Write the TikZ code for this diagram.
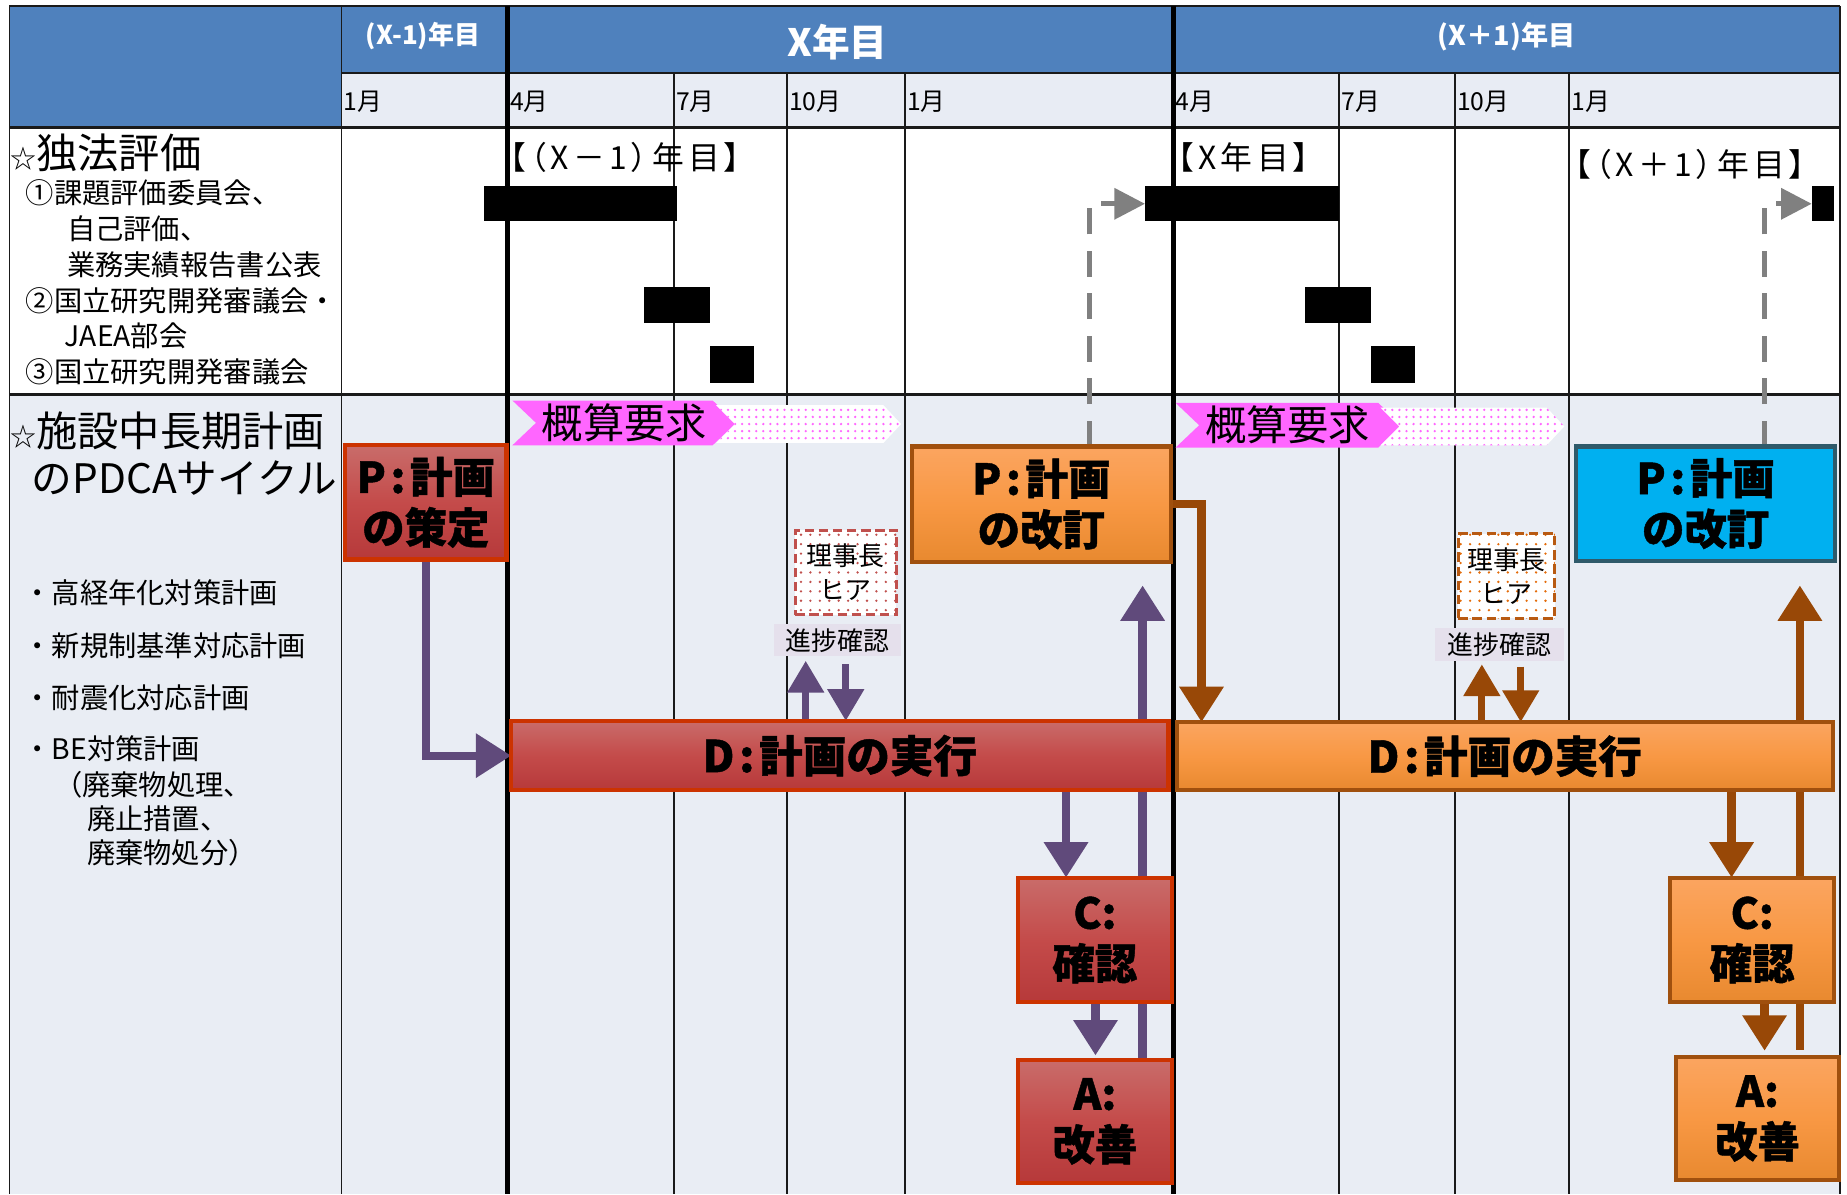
\documentclass[tikz,border=0pt]{standalone}
\usepackage{fontspec}
\setmainfont{Noto Sans CJK JP}
\usetikzlibrary{arrows.meta,patterns.meta,calc}
\newcommand\fsz[2]{\fontsize{#1}{#2}\selectfont}
\newcommand\colsp{\kern4pt:\kern4pt}
\definecolor{hdrblue}{HTML}{4F81BD}
\definecolor{monthbg}{HTML}{E8ECF4}
\definecolor{rowbg}{HTML}{E9EDF4}
\definecolor{gridc}{HTML}{1A1A1A}
\definecolor{pinkc}{HTML}{FF66FF}
\definecolor{redT}{HTML}{C96C6A}
\definecolor{redM}{HTML}{C44B4A}
\definecolor{redB}{HTML}{B6393A}
\definecolor{redBd}{HTML}{CC3300}
\definecolor{orT}{HTML}{FBA560}
\definecolor{orM}{HTML}{F89844}
\definecolor{orB}{HTML}{E8892F}
\definecolor{orBd}{HTML}{A0500E}
\definecolor{cyanP}{HTML}{00B0F0}
\definecolor{cyanBd}{HTML}{2F5A6A}
\definecolor{purpA}{HTML}{604A7B}
\definecolor{brownA}{HTML}{984807}
\definecolor{grayA}{HTML}{808080}
\definecolor{hiaRed}{HTML}{C0504D}
\definecolor{hiaOr}{HTML}{B85A12}
\definecolor{hiaDotOr}{HTML}{E46C0A}
\definecolor{shinbg}{HTML}{E5E0EC}
\pgfdeclarelayer{bg}
\pgfdeclarelayer{mid}
\pgfsetlayers{bg,mid,main}
\tikzset{
  every node/.style={inner sep=0pt, outer sep=0pt},
  boxbase/.style={rectangle, line width=3.5pt, align=center, font=\bfseries\addfontfeature{FakeBold=1}\fsz{36}{43}, anchor=north west},
  redbox/.style={boxbase, draw=redBd, top color=redT, bottom color=redB, middle color=redM},
  orbox/.style={boxbase, draw=orBd, top color=orT, bottom color=orB, middle color=orM},
  cyanbox/.style={boxbase, draw=cyanBd, fill=cyanP},
  blackbar/.style={rectangle, fill=black, anchor=north west, minimum height=30pt},
  purparrow/.style={draw=purpA, line width=7pt, -{Triangle[width=36pt,length=30pt]}},
  brownarrow/.style={draw=brownA, line width=7pt, -{Triangle[width=36pt,length=30pt]}},
  smallp/.style={draw=purpA, line width=6pt, -{Triangle[width=30pt,length=27pt]}},
  smallb/.style={draw=brownA, line width=6pt, -{Triangle[width=30pt,length=27pt]}},
  graydash/.style={draw=grayA, line width=4pt, dash pattern=on 22pt off 14pt, -{Triangle[width=26pt,length=26pt]}},
  hiabox/.style={rectangle, line width=2.5pt, dash pattern=on 8pt off 4pt, align=center, font=\fsz{22}{29}, anchor=north west},
  shinbox/.style={rectangle, fill=shinbg, font=\fsz{22}{22}, anchor=north west},
  lefttext/.style={anchor=west, font=\fsz{24}{24}},
  monthtext/.style={anchor=west, font=\fsz{21}{21}},
  hdrtext/.style={text=white, font=\bfseries\fsz{22}{22}},
  brktext/.style={anchor=west, font=\addfontfeatures{RawFeature=+palt,LetterSpace=14}\fsz{27}{27}},
  gaitext/.style={font=\fsz{35}{35}},
  gridthin/.style={draw=gridc, line width=1.5pt},
  gridthick/.style={draw=black, line width=4pt}
}
\begin{document}
\begin{tikzpicture}[x=1pt,y=-1pt]
\useasboundingbox (0,0) rectangle (1568,1014);
\begin{pgfonlayer}{bg}
\fill[white] (0,0) rectangle (1568,1014);
\fill[hdrblue] (8,5) rectangle (1562,62);
\fill[hdrblue] (8,62) rectangle (290,108);
\fill[monthbg] (290,62) rectangle (1562,108);
\fill[white] (8,108) rectangle (1562,335);
\fill[rowbg] (8,335) rectangle (1562,1014);
\draw[gridthin] (8,5) -- (1562,5);
\draw[gridthin, line width=2pt] (290,62) -- (1562,62);
\draw[gridthin, line width=2.5pt] (8,108) -- (1562,108);
\draw[gridthin, line width=2pt] (8,335) -- (1562,335);
\draw[gridthin] (8,5) -- (8,1014);
\draw[gridthin] (290,5) -- (290,1014);
\draw[gridthin] (1562,5) -- (1562,1014);
\foreach \xx in {572,668,768,1137,1235,1332} \draw[gridthin] (\xx,62) -- (\xx,1014);
\draw[gridthick] (431,5) -- (431,1014);
\draw[gridthick] (996,5) -- (996,1014);
\end{pgfonlayer}

% header texts
\node[hdrtext] (hy0) at (359,31) {(X-1)年目};
\node[hdrtext, font=\bfseries\fsz{32}{32}] (hy1) at (711,36) {X年目};
\node[hdrtext, font=\bfseries\fsz{23}{23}] (hy2) at (1279,31) {(X＋1)年目};
\node[monthtext] (m1) at (292,86) {1月};
\node[monthtext] (m2) at (433,86) {4月};
\node[monthtext] (m3) at (574,86) {7月};
\node[monthtext] (m4) at (670,86) {10月};
\node[monthtext] (m5) at (770,86) {1月};
\node[monthtext] (m6) at (998,86) {4月};
\node[monthtext] (m7) at (1139,86) {7月};
\node[monthtext] (m8) at (1237,86) {10月};
\node[monthtext] (m9) at (1334,86) {1月};

% left texts row 1
\node[anchor=west] (dh) at (9,130) {\fsz{22}{22}☆\fsz{35}{35}独法評価};
\node[lefttext] (l1) at (22,164) {①課題評価委員会、};
\node[lefttext] (l2) at (57,194) {自己評価、};
\node[lefttext] (l3) at (57,225) {業務実績報告書公表};
\node[lefttext] (l4) at (22,255) {②国立研究開発審議会・};
\node[lefttext] (l5) at (55,285) {JAEA部会};
\node[lefttext] (l6) at (22,316) {③国立研究開発審議会};

% left texts row 2
\node[anchor=west] (sh1) at (9,366) {\fsz{22}{22}☆\fsz{35}{35}施設中長期計画};
\node[anchor=west, font=\fsz{34.5}{34.5}] (sh2) at (27,406) {のPDCAサイクル};
\node[lefttext] (k1) at (20,503) {・高経年化対策計画};
\node[lefttext] (k2) at (20,548) {・新規制基準対応計画};
\node[lefttext] (k3) at (20,592) {・耐震化対応計画};
\node[lefttext] (k4) at (20,636) {・BE対策計画};
\node[lefttext] (k5) at (46,666) {（廃棄物処理、};
\node[lefttext] (k6) at (74,695) {廃止措置、};
\node[lefttext] (k7) at (74,724) {廃棄物処分）};

% bracket labels
\node[brktext] (br0) at (433,134) {【（X－1）年目】};
\node[brktext] (br1) at (1000,134) {【X年目】};
\node[brktext] (br2) at (1337,140) {【（X＋1）年目】};

% black bars
\node[blackbar, minimum width=164pt] (bar1a) at (411,158) {};
\node[blackbar, minimum width=56pt] (bar1b) at (547,244) {};
\node[blackbar, minimum width=37pt, minimum height=31pt] (bar1c) at (603,294) {};
\node[blackbar, minimum width=165pt] (bar2a) at (972,158) {};
\node[blackbar, minimum width=56pt] (bar2b) at (1108,244) {};
\node[blackbar, minimum width=37pt, minimum height=31pt] (bar2c) at (1164,294) {};
\node[blackbar, minimum width=19pt] (bar3a) at (1538,158) {};

% chevrons
\fill[pinkc] (435,340) -- (605,340) -- (625,359) -- (605,378) -- (435,378) -- (455,359) -- cycle;
\fill[white] (608,344) -- (750,344) -- (765,360) -- (750,376) -- (608,376) -- (624,360) -- cycle;
\fill[pattern={Dots[distance=6pt,radius=1.1pt]}, pattern color=pinkc] (608,344) -- (750,344) -- (765,360) -- (750,376) -- (608,376) -- (624,360) -- cycle;
\node[gaitext] (gai1) at (530,359) {概算要求};
\fill[pinkc] (998,342) -- (1170,342) -- (1190,361) -- (1170,380) -- (998,380) -- (1018,361) -- cycle;
\fill[white] (1172,346) -- (1313,346) -- (1328,362) -- (1313,378) -- (1172,378) -- (1188,362) -- cycle;
\fill[pattern={Dots[distance=6pt,radius=1.1pt]}, pattern color=pinkc] (1172,346) -- (1313,346) -- (1328,362) -- (1313,378) -- (1172,378) -- (1188,362) -- cycle;
\node[gaitext] (gai2) at (1093,361) {概算要求};

% PDCA boxes
\node[redbox, minimum width=137pt, minimum height=97pt] (P1) at (293,378) {P\colsp 計画\\の策定};
\node[orbox, minimum width=220pt, minimum height=98pt] (P2) at (774,379) {P\colsp 計画\\の改訂};
\node[cyanbox, minimum width=220pt, minimum height=97pt] (P3) at (1338,379) {P\colsp 計画\\の改訂};
\node[redbox, minimum width=558pt, minimum height=59pt, font=\bfseries\addfontfeature{FakeBold=1}\fsz{37}{37}] (D1) at (434,612) {D\colsp 計画の実行};
\node[orbox, minimum width=557pt, minimum height=58pt, font=\bfseries\addfontfeature{FakeBold=1}\fsz{37}{37}] (D2) at (999,613) {D\colsp 計画の実行};
\node[redbox, minimum width=131pt, minimum height=106pt] (C1) at (864,745) {C:\\確認};
\node[redbox, minimum width=131pt, minimum height=104pt] (A1) at (864,900) {A:\\改善};
\node[orbox, minimum width=139pt, minimum height=106pt] (C2) at (1418,745) {C:\\確認};
\node[orbox, minimum width=138pt, minimum height=105pt] (A2) at (1423,897) {A:\\改善};

% hearing boxes
\node[hiabox, draw=hiaRed, preaction={fill=white}, pattern={Dots[distance=8pt,radius=1.1pt]}, pattern color=hiaRed, minimum width=86pt, minimum height=72pt] (hia1) at (675,450) {理事長\\ヒア};
\node[shinbox, minimum width=108pt, minimum height=27pt] (shin1) at (657,530) {進捗確認};
\node[hiabox, draw=hiaOr, preaction={fill=white}, pattern={Dots[distance=8pt,radius=1.1pt]}, pattern color=hiaDotOr, minimum width=82pt, minimum height=72pt] (hia2) at (1238,453) {理事長\\ヒア};
\node[shinbox, minimum width=110pt, minimum height=28pt] (shin2) at (1218,533) {進捗確認};

% helper x coordinates
\coordinate (g1x) at (925,0);
\coordinate (g2x) at (1498,0);
\coordinate (a1x) at (905,0);
\coordinate (a2x) at (930,0);
\coordinate (a3x) at (970,0);
\coordinate (s1x) at (684,0);
\coordinate (s2x) at (718,0);
\coordinate (o1x) at (1020,0);
\coordinate (o2x) at (1470,0);
\coordinate (o3x) at (1498,0);
\coordinate (o4x) at (1528,0);
\coordinate (s3x) at (1258,0);
\coordinate (s4x) at (1291,0);

\begin{pgfonlayer}{mid}
\draw[graydash] (P2.north -| g1x) |- (bar2a.west);
\draw[graydash] (P3.north -| g2x) |- (bar3a.west);
\draw[purparrow] (P1.south) |- (D1.west);
\draw[purparrow] (D1.south -| a1x) -- (C1.north -| a1x);
\draw[purparrow, shorten >=4pt] (C1.south -| a2x) -- (A1.north -| a2x);
\draw[purparrow, shorten >=20pt] (A1.north -| a3x) -- (P2.south -| a3x);
\draw[smallp, shorten >=4pt] (D1.north -| s1x) -- (shin1.south -| s1x);
\draw[smallp, shorten <=7pt] (shin1.south -| s2x) -- (D1.north -| s2x);
\draw[brownarrow] (P2.east) -| (D2.north -| o1x);
\draw[brownarrow] (D2.south -| o2x) -- (C2.north -| o2x);
\draw[brownarrow, shorten >=5pt] (C2.south -| o3x) -- (A2.north -| o3x);
\draw[brownarrow, shorten <=6pt, shorten >=21pt] (A2.north -| o4x) -- (P3.south -| o4x);
\draw[smallb, shorten >=3pt] (D2.north -| s3x) -- (shin2.south -| s3x);
\draw[smallb, shorten <=5pt] (shin2.south -| s4x) -- (D2.north -| s4x);
\end{pgfonlayer}
\end{tikzpicture}
\end{document}
